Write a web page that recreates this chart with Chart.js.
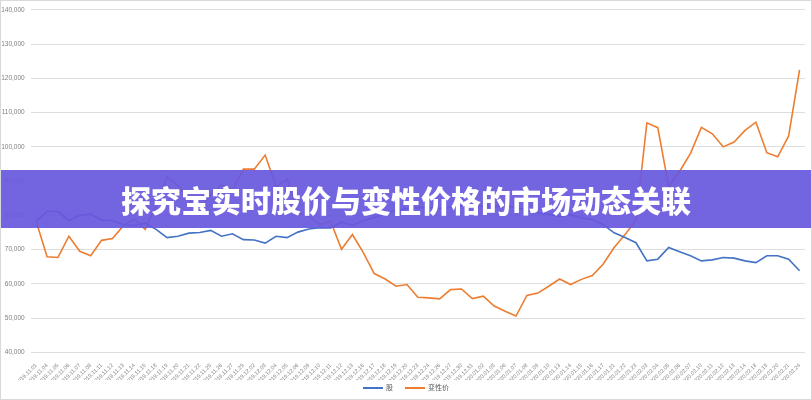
<!DOCTYPE html>
<html>
<head>
<meta charset="utf-8">
<script src="https://cdn.jsdelivr.net/npm/chart.js@4"></script>
<style>
  html, body { margin: 0; padding: 0; background: #fff; }
  #wrap { position: relative; width: 812px; height: 400px; overflow: hidden; }
  #c { position: absolute; left: 0; top: 0; }
  #frame { position: absolute; left: 0; top: 0; width: 810px; height: 398px; border: 1px solid #d9d9d9; pointer-events: none; }
  #banner { position: absolute; left: 0; top: 170px; width: 812px; height: 58px;
            background: rgba(104, 88, 222, 0.93); color: #fff;
            font-family: "Noto Sans CJK SC", sans-serif; font-weight: 900; font-size: 30px;
            line-height: 58px; text-align: center; letter-spacing: 0px; }
  #legend { position: absolute; left: 0; top: 382px; width: 812px; text-align: center;
            font-family: "Noto Sans CJK SC", sans-serif; font-size: 7px; color: #595959; }
  #legend span.item { display: inline-block; margin: 0 6px; }
  #legend span.sw { display: inline-block; width: 20px; height: 1.5px; vertical-align: middle; margin-right: 3px; }
</style>
</head>
<body>
<div id="wrap">
  <canvas id="c" width="812" height="400"></canvas>
  <div id="banner">探究宝实时股价与变性价格的市场动态关联</div>
  <div id="legend"></div>
  <div id="frame"></div>
</div>
<script>
const dates = [
  "2019.11.01","2019.11.04","2019.11.05","2019.11.06","2019.11.07","2019.11.08",
  "2019.11.11","2019.11.12","2019.11.13","2019.11.14","2019.11.15",
  "2019.11.18","2019.11.19","2019.11.20","2019.11.21","2019.11.22",
  "2019.11.25","2019.11.26","2019.11.27","2019.11.29",
  "2019.12.02","2019.12.03","2019.12.04","2019.12.05","2019.12.06",
  "2019.12.09","2019.12.10","2019.12.11","2019.12.12","2019.12.13",
  "2019.12.16","2019.12.17","2019.12.18","2019.12.19","2019.12.20",
  "2019.12.23","2019.12.24","2019.12.26","2019.12.27","2019.12.30","2019.12.31",
  "2020.01.02","2020.01.03","2020.01.06","2020.01.07","2020.01.08","2020.01.09","2020.01.10",
  "2020.01.13","2020.01.14","2020.01.15","2020.01.16","2020.01.17",
  "2020.01.21","2020.01.22","2020.01.23",
  "2020.02.03","2020.02.04","2020.02.05","2020.02.06","2020.02.07",
  "2020.02.10","2020.02.11","2020.02.12","2020.02.13","2020.02.14",
  "2020.02.18","2020.02.19","2020.02.20","2020.02.21","2020.02.24"
];
const seriesNames = ["股", "变性价"];
const stockPrice = [
  78300,81100,81100,78500,80000,80400,78600,78500,77300,77000,77700,
  75900,73500,73900,74800,75000,75600,73900,74600,72900,
  72800,71900,73900,73500,75100,76000,76400,76300,78000,77100,
  78400,79400,80500,81500,82000,82300,82200,82000,82400,82800,83200,
  82700,82500,82900,82300,81500,80700,80300,79700,80200,79200,
  78800,77300,74900,73500,72000,
  66700,67200,70600,69400,68200,66700,67000,67700,67500,66700,
  66200,68200,68200,67200,63800
];
const otherPrice = [
  78300,67900,67700,73900,69500,68200,72700,73200,77000,78900,75900,
  83000,91300,88700,84500,82000,86000,88900,87500,93500,
  93500,97600,88400,90500,80800,79700,77300,78300,70100,74400,
  69100,63000,61400,59300,59800,56100,55900,55600,58300,58500,55700,
  56400,53500,52000,50600,56600,57300,59300,61400,59800,61300,
  62400,65800,70600,74400,78500,
  107000,105600,88400,92800,98100,105700,103800,100000,101400,104800,
  107200,98300,97100,103200,122500
];
const yTicks = { min: 40000, max: 140000, step: 10000 };
const colors = ["#4472C4", "#ED7D31"];

const ctx = document.getElementById('c').getContext('2d');
const chart = new Chart(ctx, {
  type: 'line',
  data: {
    labels: dates,
    datasets: [
      { label: seriesNames[0], data: stockPrice, borderColor: colors[0], backgroundColor: colors[0],
        borderWidth: 1.6, pointRadius: 0, tension: 0, fill: false },
      { label: seriesNames[1], data: otherPrice, borderColor: colors[1], backgroundColor: colors[1],
        borderWidth: 1.6, pointRadius: 0, tension: 0, fill: false }
    ]
  },
  options: {
    responsive: false,
    animation: false,
    devicePixelRatio: 1,
    layout: { padding: { left: 0, right: 7, top: 3, bottom: 20 } },
    plugins: { legend: { display: false }, tooltip: { enabled: false } },
    scales: {
      x: {
        offset: true,
        grid: { display: false },
        border: { display: false },
        ticks: { autoSkip: false, maxRotation: 45, minRotation: 45, padding: 2,
                 font: { size: 5.5, family: "'Liberation Sans', Arial, sans-serif" }, color: '#808080' },
        afterFit: s => { s.height = 27.7; }
      },
      y: {
        min: yTicks.min, max: yTicks.max,
        grid: { color: '#dedede', lineWidth: 1, drawTicks: false },
        border: { display: false },
        ticks: { stepSize: yTicks.step, padding: 6,
                 font: { size: 6.5, family: "'Liberation Sans', Arial, sans-serif" }, color: '#808080',
                 callback: v => v.toLocaleString('en-US') },
        afterFit: s => { s.width = 30.7; }
      }
    }
  }
});

const leg = document.getElementById('legend');
chart.data.datasets.forEach(ds => {
  const it = document.createElement('span');
  it.className = 'item';
  const sw = document.createElement('span');
  sw.className = 'sw';
  sw.style.background = ds.borderColor;
  it.appendChild(sw);
  it.appendChild(document.createTextNode(ds.label));
  leg.appendChild(it);
});
</script>
</body>
</html>
